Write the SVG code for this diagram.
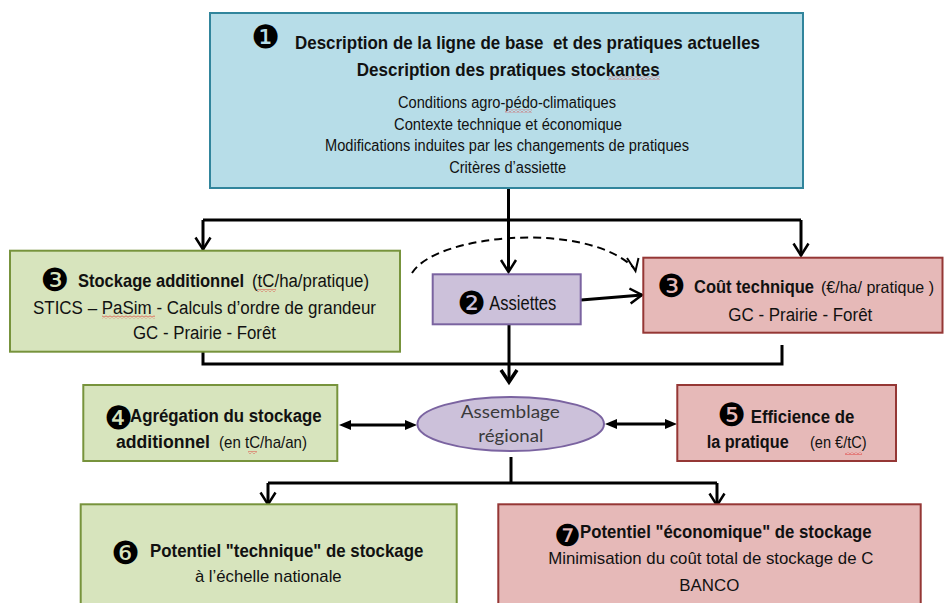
<svg xmlns="http://www.w3.org/2000/svg" width="944" height="603" viewBox="0 0 944 603">
<style>
.t{font-family:"Liberation Sans",Arial,sans-serif;fill:#111}
.b{font-weight:bold}
.c{text-anchor:middle}
.n{font-family:"DejaVu Sans",sans-serif;text-anchor:middle;fill:#000}
.e{font-family:Lato,"Open Sans",sans-serif;fill:#3a3a3a;text-anchor:middle}
.blue{fill:#b7dde8;stroke:#31859c;stroke-width:2}
.green{fill:#d7e4bd;stroke:#77933c;stroke-width:2}
.red{fill:#e6b9b8;stroke:#953735;stroke-width:2}
.purple{fill:#ccc1da;stroke:#7a63a0;stroke-width:2}
.ln{fill:none;stroke:#000;stroke-width:3}
.wv{fill:url(#wavy)}
</style>
<defs>
<pattern id="wavy" width="4" height="3" patternUnits="userSpaceOnUse"><path d="M0,2.5 L2,0.5 L4,2.5" fill="none" stroke="#e02020" stroke-width="0.8"/></pattern>
<marker id="arr" viewBox="-14 -9 16 18" refX="0" refY="0" markerWidth="16" markerHeight="18" orient="auto" markerUnits="userSpaceOnUse" overflow="visible"><path d="M-12,-7.5 L0,0 L-12,7.5" fill="none" stroke="#000" stroke-width="2.5"/></marker>
<marker id="arrB" viewBox="-16 -10 18 20" refX="0" refY="0" markerWidth="18" markerHeight="20" orient="auto" markerUnits="userSpaceOnUse" overflow="visible"><path d="M-12,-8 L0,0 L-12,8" fill="none" stroke="#000" stroke-width="3.5"/></marker>
<marker id="tri" viewBox="-7 -5 14 10" refX="0" refY="0" markerWidth="14" markerHeight="10" orient="auto-start-reverse" markerUnits="userSpaceOnUse" overflow="visible"><path d="M-6,-5 L6,0 L-6,5 Z" fill="#000"/></marker>
</defs>

<g id="connectors">
<path class="ln" d="M508.5 188 V272" marker-end="url(#arr)"/>
<path class="ln" d="M203 220 H801"/>
<path class="ln" d="M203 220 V249.5" marker-end="url(#arr)"/>
<path class="ln" d="M801 220 V255.5" marker-end="url(#arr)"/>
<path class="ln" d="M581 300 L642 295" marker-end="url(#arr)"/>
<path d="M412 273 C 437 233, 588 221, 634 268" fill="none" stroke="#000" stroke-width="2" stroke-dasharray="8 5"/>
<path d="M627 258 L635.5 271 L638.5 258" fill="none" stroke="#000" stroke-width="2"/>
<path class="ln" d="M203 352 V364 H782 V345"/>
<path class="ln" d="M509 324 V382" marker-end="url(#arrB)"/>
<path class="ln" d="M345 425 H411" marker-start="url(#tri)" marker-end="url(#tri)"/>
<path class="ln" d="M611 424 H671" marker-start="url(#tri)" marker-end="url(#tri)"/>
<path class="ln" d="M511 457 V483"/>
<path class="ln" d="M268 483 H717"/>
<path class="ln" d="M268 483 V504.5" marker-end="url(#arr)"/>
<path class="ln" d="M717 483 V505.5" marker-end="url(#arr)"/>
</g>

<g id="n1">
<rect class="blue" x="210" y="13" width="593" height="175"/>
<text class="n" x="265.5" y="48" font-size="32">❶</text>
<text class="t b" x="295" y="48.5" font-size="19" textLength="465" lengthAdjust="spacingAndGlyphs" xml:space="preserve">Description de la ligne de base  et des pratiques actuelles</text>
<text class="t b c" x="508.3" y="75.5" font-size="19" textLength="303" lengthAdjust="spacingAndGlyphs">Description des pratiques stockantes</text>
<text class="t c" x="507" y="107.5" font-size="16" textLength="218" lengthAdjust="spacingAndGlyphs">Conditions agro-pédo-climatiques</text>
<text class="t c" x="508" y="129.5" font-size="16" textLength="228" lengthAdjust="spacingAndGlyphs">Contexte technique et économique</text>
<text class="t c" x="507" y="151.3" font-size="16" textLength="364" lengthAdjust="spacingAndGlyphs">Modifications induites par les changements de pratiques</text>
<text class="t c" x="507.7" y="172.7" font-size="16" textLength="117" lengthAdjust="spacingAndGlyphs">Critères d’assiette</text>
<rect class="wv" x="608" y="76.5" width="52" height="3"/>
<rect class="wv" x="505" y="109.5" width="27" height="3"/>
</g>

<g id="n3a">
<rect class="green" x="10" y="250.7" width="390" height="101"/>
<text class="n" x="54.5" y="291" font-size="32">❸</text>
<text class="t b" x="78" y="287" font-size="18.5" textLength="166" lengthAdjust="spacingAndGlyphs">Stockage additionnel</text>
<text class="t" x="252" y="287" font-size="18" textLength="117" lengthAdjust="spacingAndGlyphs">(tC/ha/pratique)</text>
<text class="t c" x="204.5" y="314" font-size="18" textLength="343" lengthAdjust="spacingAndGlyphs">STICS – PaSim - Calculs d’ordre de grandeur</text>
<text class="t c" x="204.5" y="339" font-size="18" textLength="143" lengthAdjust="spacingAndGlyphs">GC - Prairie - Forêt</text>
<rect class="wv" x="257" y="289" width="19" height="3"/>
<rect class="wv" x="102" y="315.5" width="53" height="3"/>
</g>

<g id="n2">
<rect class="purple" x="432.7" y="274.3" width="148" height="50"/>
<text class="n" x="471.7" y="314" font-size="32">❷</text>
<text class="t" x="489.3" y="310" font-size="20" textLength="67" lengthAdjust="spacingAndGlyphs">Assiettes</text>
</g>

<g id="n3b">
<rect class="red" x="643.3" y="257.7" width="299.2" height="75"/>
<text class="n" x="671" y="296.5" font-size="32">❸</text>
<text class="t b" x="694" y="293.3" font-size="18.5" textLength="120" lengthAdjust="spacingAndGlyphs">Coût technique</text>
<text class="t" x="821" y="293.3" font-size="16.5" textLength="113" lengthAdjust="spacingAndGlyphs">(€/ha/ pratique )</text>
<text class="t c" x="800.3" y="320.7" font-size="18" textLength="144" lengthAdjust="spacingAndGlyphs">GC - Prairie - Forêt</text>
</g>

<g id="n4">
<rect class="green" x="83.3" y="385" width="254" height="76"/>
<text class="n" x="118.3" y="428.5" font-size="32">❹</text>
<text class="t b" x="130" y="421.7" font-size="18" textLength="191.7" lengthAdjust="spacingAndGlyphs">Agrégation du stockage</text>
<text class="t b" x="116" y="448.3" font-size="18" textLength="94" lengthAdjust="spacingAndGlyphs">additionnel</text>
<text class="t" x="219" y="448.3" font-size="17" textLength="88" lengthAdjust="spacingAndGlyphs">(en tC/ha/an)</text>
<rect class="wv" x="248" y="451" width="9" height="3"/>
</g>

<g id="nA">
<ellipse class="purple" cx="510.7" cy="424" rx="93.3" ry="27"/>
<text class="e" x="510.3" y="418" font-size="18" textLength="99" lengthAdjust="spacingAndGlyphs">Assemblage</text>
<text class="e" x="510.8" y="441.5" font-size="18" textLength="65" lengthAdjust="spacingAndGlyphs">régional</text>
</g>

<g id="n5">
<rect class="red" x="677.3" y="385" width="218.7" height="76"/>
<text class="n" x="731.7" y="426.3" font-size="32">❺</text>
<text class="t b" x="750.7" y="422.7" font-size="18" textLength="103.6" lengthAdjust="spacingAndGlyphs">Efficience de</text>
<text class="t b" x="706.7" y="448.3" font-size="18" textLength="82" lengthAdjust="spacingAndGlyphs">la pratique</text>
<text class="t" x="810" y="448.3" font-size="17" textLength="56.7" lengthAdjust="spacingAndGlyphs">(en €/tC)</text>
<rect class="wv" x="845" y="452" width="17" height="3"/>
</g>

<g id="n6">
<rect class="green" x="80.7" y="504.3" width="376" height="110"/>
<text class="n" x="125.5" y="564" font-size="32">❻</text>
<text class="t b" x="150" y="557.3" font-size="18.5" textLength="273.3" lengthAdjust="spacingAndGlyphs">Potentiel "technique" de stockage</text>
<text class="t c" x="268.3" y="581.7" font-size="17" textLength="146.7" lengthAdjust="spacingAndGlyphs">à l’échelle nationale</text>
</g>

<g id="n7">
<rect class="red" x="498.3" y="504.3" width="422.4" height="110"/>
<text class="n" x="567.5" y="545.6" font-size="30">❼</text>
<text class="t b" x="580" y="538.3" font-size="18.5" textLength="291.7" lengthAdjust="spacingAndGlyphs">Potentiel "économique" de stockage</text>
<text class="t c" x="710.8" y="564.3" font-size="17" textLength="325" lengthAdjust="spacingAndGlyphs">Minimisation du coût total de stockage de C</text>
<text class="t c" x="709.3" y="590.7" font-size="17" textLength="60" lengthAdjust="spacingAndGlyphs">BANCO</text>
</g>
</svg>
